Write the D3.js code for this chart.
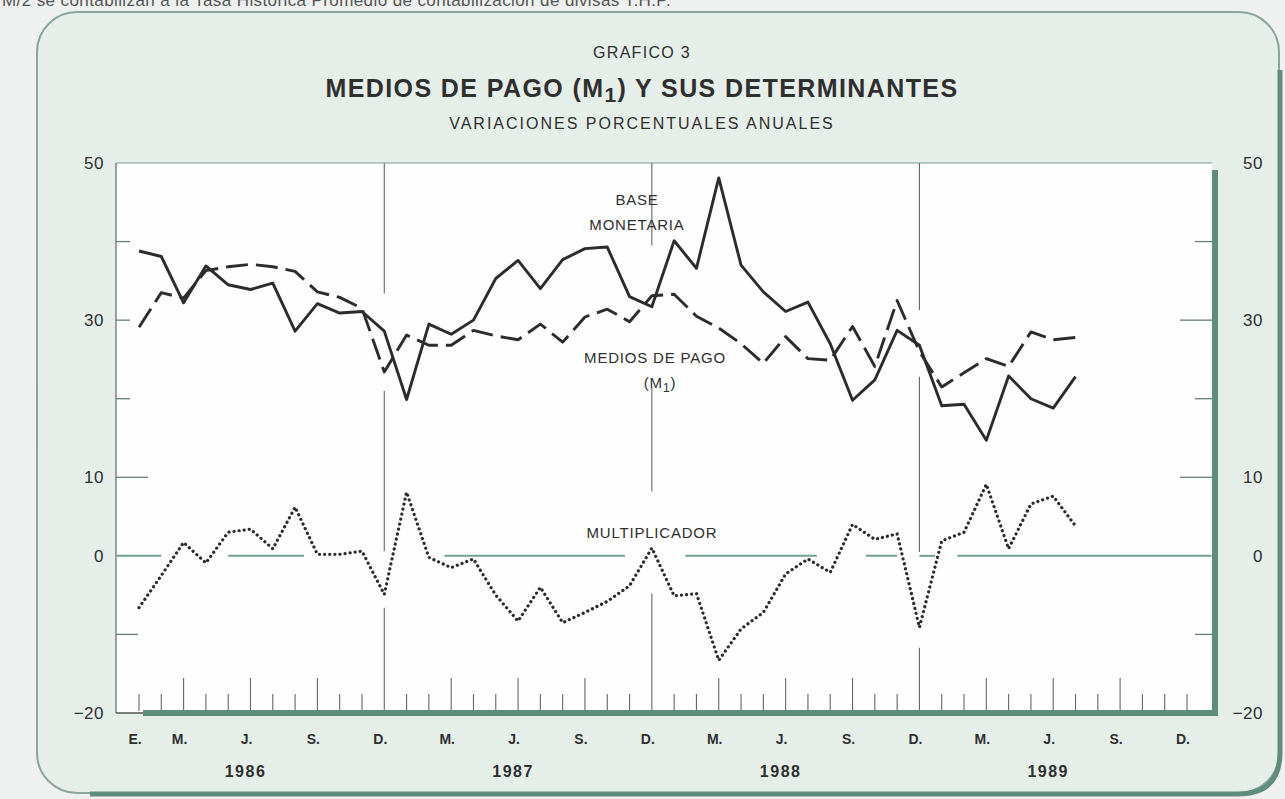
<!DOCTYPE html>
<meta charset="utf-8">
<html>
<style>
  body { margin: 0; background: #eef1ef; }
  svg { display: block; }
  text { font-family: "Liberation Sans", Arial, sans-serif; fill: #2f2f2f; }
  .mlab { font-size: 14px; font-weight: bold; text-anchor: middle; }
  .yearlab { font-size: 16px; font-weight: bold; text-anchor: middle; letter-spacing: 1.5px; }
  .note { font-size: 15px; text-anchor: middle; letter-spacing: 0.8px; }
  .series { fill: none; stroke: #2c2c2c; stroke-linejoin: round; }
</style>
<body>
<svg width="1285" height="799"></svg>

<script src="https://d3js.org/d3.v7.min.js"></script>
<script>

// monthly data, E. 1986 .. JL. 1989
var baseMonetaria = [38.8, 38.1, 32.2, 36.9, 34.5, 33.9, 34.7, 28.6, 32.1, 30.9, 31.1, 28.6,
                     19.9, 29.5, 28.2, 30.0, 35.3, 37.6, 34.0, 37.7, 39.1, 39.3, 33.0, 31.7,
                     40.1, 36.6, 48.1, 37.0, 33.6, 31.1, 32.3, 27.0, 19.8, 22.4, 28.7, 26.8,
                     19.1, 19.3, 14.7, 22.9, 20.0, 18.8, 22.8];

var mediosPago = [29.1, 33.5, 32.8, 36.3, 36.8, 37.1, 36.8, 36.2, 33.6, 32.9, 31.5, 23.4,
                  28.1, 26.8, 26.8, 28.7, 28.0, 27.5, 29.5, 27.2, 30.4, 31.4, 29.8, 33.1,
                  33.3, 30.5, 29.0, 27.0, 24.5, 27.9, 25.1, 24.9, 29.2, 24.1, 32.5, 26.0,
                  21.5, 23.3, 25.1, 24.1, 28.5, 27.5, 27.8];

var multiplicador = [-6.6, -2.5, 1.7, -0.9, 3.0, 3.4, 0.9, 6.2, 0.2, 0.2, 0.6, -4.9,
                     8.1, -0.2, -1.5, -0.4, -5.0, -8.3, -4.0, -8.5, -7.2, -5.8, -3.8, 1.0,
                     -5.1, -4.8, -13.3, -9.3, -7.2, -2.3, -0.4, -2.1, 4.0, 2.1, 2.8, -9.1,
                     1.9, 3.0, 9.1, 0.9, 6.6, 7.6, 3.8];

var monthNames = ["E.", "F.", "M.", "A.", "M.", "J.", "J.", "A.", "S.", "O.", "N.", "D."];
var years = ["1986", "1987", "1988", "1989"];
var yLabels = [50, 30, 10, 0, -20];
var yTicks = [40, 30, 20, 10, -10];

var svg = d3.select("svg");

var pl = 116, pr = 1212, pt = 163, pb = 713;

var x = d3.scaleLinear().domain([0, 47]).range([139, 1187]);
var y = d3.scaleLinear().domain([-20, 50]).range([pb, pt]);

// background panel
svg.append("rect").attr("width", 1285).attr("height", 799).attr("fill", "#eef1ef");
svg.append("rect")
    .attr("x", 37).attr("y", 12).attr("width", 1242).attr("height", 781).attr("rx", 40)
    .attr("fill", "#e6eee9").attr("stroke", "#8aa59b").attr("stroke-width", 2);
svg.append("path")
    .attr("d", "M1280,70 L1280,752 Q1280,794 1238,794 L90,794")
    .attr("fill", "none").attr("stroke", "#5f8c7c").attr("stroke-width", 5);

// footnote of the previous page, cut by the top edge
svg.append("text")
    .attr("x", 2).attr("y", 6)
    .style("font-size", "17px").style("letter-spacing", "0.4px").style("fill", "#555")
    .text("M/2 se contabilizan a la Tasa Histórica Promedio de contabilización de divisas T.H.P.");

// titles
svg.append("text").attr("x", 642).attr("y", 58).attr("text-anchor", "middle")
    .style("font-size", "16px").style("letter-spacing", "1.3px").text("GRAFICO 3");
var title = svg.append("text").attr("x", 642).attr("y", 97).attr("text-anchor", "middle")
    .style("font-size", "25px").style("font-weight", "bold").style("letter-spacing", "1.4px");
title.append("tspan").text("MEDIOS DE PAGO (M");
title.append("tspan").attr("dy", 5).style("font-size", "21px").text("1");
title.append("tspan").attr("dy", -5).text(") Y SUS DETERMINANTES");
svg.append("text").attr("x", 642).attr("y", 129).attr("text-anchor", "middle")
    .style("font-size", "16px").style("letter-spacing", "2px").text("VARIACIONES PORCENTUALES ANUALES");

// plot area
svg.append("rect").attr("x", pl).attr("y", pt).attr("width", pr - pl).attr("height", pb - pt)
    .attr("fill", "#fefefe");
svg.append("line").attr("x1", pl).attr("x2", pr).attr("y1", pt).attr("y2", pt)
    .attr("stroke", "#7d9a90").attr("stroke-width", 1.2);
svg.append("line").attr("x1", pl).attr("x2", pl).attr("y1", pt).attr("y2", pb)
    .attr("stroke", "#666").attr("stroke-width", 1.2);
svg.append("line").attr("x1", pl).attr("x2", 145).attr("y1", pb).attr("y2", pb)
    .attr("stroke", "#555").attr("stroke-width", 1.5);

// y ticks inside the frame
svg.append("g").selectAll("line").data(yTicks).enter().append("line")
    .attr("x1", pl).attr("x2", function(d) { return pl + (d == 10 ? 32 : d == -10 ? 22 : 14); })
    .attr("y1", function(d) { return y(d); }).attr("y2", function(d) { return y(d); })
    .attr("stroke", "#667f76").attr("stroke-width", 1.3);
svg.append("g").selectAll("line").data(yTicks).enter().append("line")
    .attr("x1", function(d) { return pr - (d == 10 || d == 30 ? 32 : 17); }).attr("x2", pr)
    .attr("y1", function(d) { return y(d); }).attr("y2", function(d) { return y(d); })
    .attr("stroke", "#667f76").attr("stroke-width", 1.3);

// zero line, broken where labels and lines cross it
var zeroSegs = [[-1, 1], [4, 7.4], [13.7, 21.8], [24.5, 30.4], [32.6, 34], [35, 35.7], [36.7, 48.1]];
svg.append("g").selectAll("line").data(zeroSegs).enter().append("line")
    .attr("x1", function(d) { return x(d[0]); }).attr("x2", function(d) { return x(d[1]); })
    .attr("y1", y(0)).attr("y2", y(0))
    .attr("stroke", "#72a090").attr("stroke-width", 2);

// december year separators
var decIdx = [11, 23, 35];
var decSegs = [[[50, 33.4], [21, 0.6], [-6.6, -20]],
               [[50, 39.5], [21.5, 8.2], [-4.8, -20]],
               [[50, 31.3], [22.8, 0.5], [-11.7, -20]]];
decIdx.forEach(function(m, k) {
    svg.append("g").selectAll("line").data(decSegs[k]).enter().append("line")
        .attr("x1", x(m)).attr("x2", x(m))
        .attr("y1", function(d) { return y(d[0]); }).attr("y2", function(d) { return y(d[1]); })
        .attr("stroke", "#666").attr("stroke-width", 1.1);
});

// month ticks
var months = d3.range(48).filter(function(i) { return decIdx.indexOf(i) < 0; });
svg.append("g").selectAll("line").data(months).enter().append("line")
    .attr("x1", function(i) { return x(i); }).attr("x2", function(i) { return x(i); })
    .attr("y1", pb - 2).attr("y2", function(i) { return (i % 3 == 2 && i < 47) ? pb - 35 : pb - 19; })
    .attr("stroke", "#666").attr("stroke-width", 1.1);

// green base and right bar
svg.append("rect").attr("x", 143).attr("y", pb - 3).attr("width", pr + 6 - 143).attr("height", 6)
    .attr("fill", "#5e8d7c");
svg.append("rect").attr("x", pr).attr("y", pt + 7).attr("width", 6).attr("height", pb + 3 - pt - 7)
    .attr("fill", "#5e8d7c");

// axis labels
var fmt = d3.format("d");
var yl = svg.append("g").attr("transform", "translate(" + pl + ",0)")
    .call(d3.axisLeft(y).tickValues(yLabels).tickSize(0).tickPadding(12).tickFormat(fmt));
yl.select(".domain").remove();
yl.selectAll("text").style("font-family", "Liberation Sans, Arial, sans-serif")
    .style("font-size", "17px").style("letter-spacing", "0.5px").style("fill", "#2f2f2f");
var yr = svg.append("g").attr("transform", "translate(1263,0)")
    .call(d3.axisRight(y).tickValues(yLabels).tickSize(0).tickPadding(0).tickFormat(fmt));
yr.select(".domain").remove();
yr.selectAll("text").attr("text-anchor", "end").attr("x", 0)
    .style("font-family", "Liberation Sans, Arial, sans-serif")
    .style("font-size", "17px").style("letter-spacing", "0.5px").style("fill", "#2f2f2f");

var labMonths = d3.range(48).filter(function(i) { return i == 0 || i % 3 == 2; });
svg.append("g").selectAll("text").data(labMonths).enter().append("text")
    .attr("class", "mlab")
    .attr("x", function(i) { return x(i) - 4; }).attr("y", 744)
    .text(function(i) { return monthNames[i % 12]; });
svg.append("g").selectAll("text").data(years).enter().append("text")
    .attr("class", "yearlab")
    .attr("x", function(d, k) { return x(k * 12 + 5) - 5; }).attr("y", 777)
    .text(function(d) { return d; });

// series
var line = d3.line().x(function(d, i) { return x(i); }).y(function(d) { return y(d); });

svg.append("path").datum(mediosPago).attr("class", "series").attr("d", line)
    .attr("stroke-width", 2.9).attr("stroke-dasharray", "22 8");
svg.append("path").datum(baseMonetaria).attr("class", "series").attr("d", line)
    .attr("stroke-width", 2.9);
svg.append("path").datum(multiplicador).attr("class", "series").attr("d", line)
    .attr("stroke-width", 3.2).attr("stroke-linecap", "round").attr("stroke-dasharray", "0.1 5");

// series labels
svg.append("text").attr("class", "note").attr("x", 637).attr("y", 205).text("BASE");
svg.append("text").attr("class", "note").attr("x", 637).attr("y", 230).text("MONETARIA");
svg.append("text").attr("class", "note").attr("x", 655).attr("y", 363).text("MEDIOS DE PAGO");
var m1 = svg.append("text").attr("class", "note").attr("x", 660).attr("y", 388);
m1.append("tspan").text("(M");
m1.append("tspan").attr("dy", 4).style("font-size", "12px").text("1");
m1.append("tspan").attr("dy", -4).text(")");
svg.append("text").attr("class", "note").attr("x", 652).attr("y", 538).text("MULTIPLICADOR");

</script>
</body>
</html>
